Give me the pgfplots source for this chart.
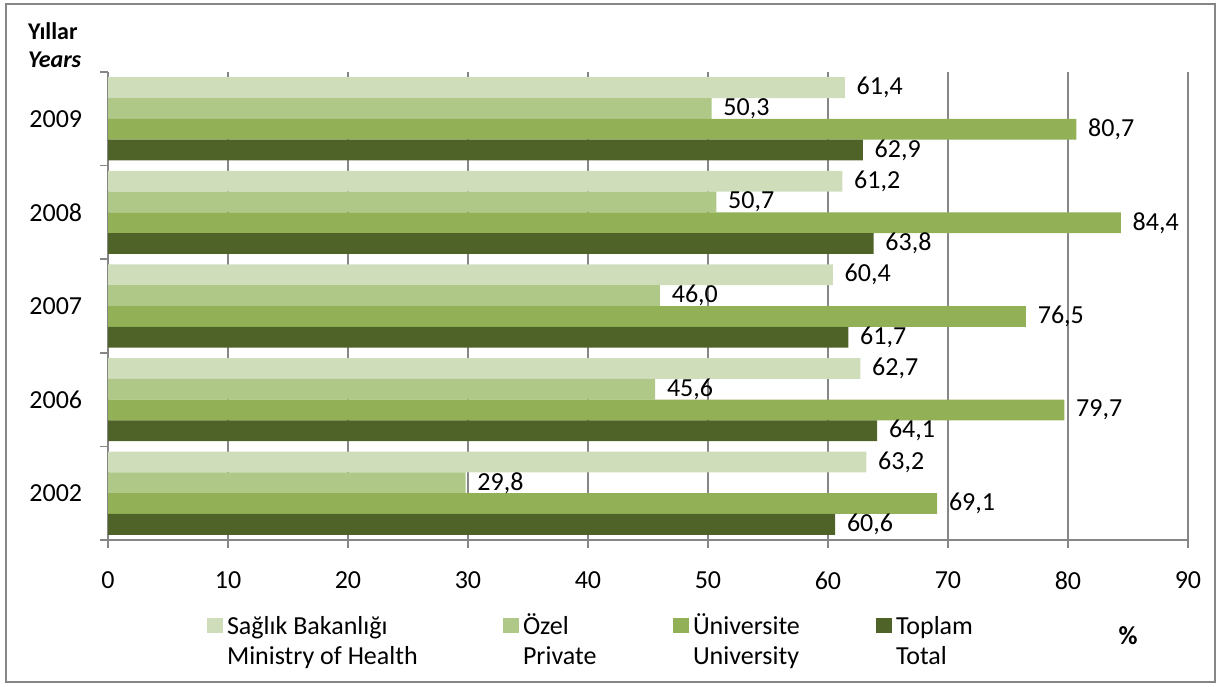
\documentclass[border=0pt]{standalone}
\usepackage{pgfplots}
\pgfplotsset{compat=1.18}
\usepackage{fontspec}
\setmainfont{Carlito}
\definecolor{cMin}{RGB}{208,221,187}
\definecolor{cPri}{RGB}{175,199,135}
\definecolor{cUni}{RGB}{146,176,86}
\definecolor{cTot}{RGB}{79,98,40}
\definecolor{gridgray}{RGB}{134,134,134}
\begin{document}
\fontsize{26}{30}\selectfont
\begin{tikzpicture}[x=1pt,y=1pt]
\path[use as bounding box] (0,0) rectangle (1218,686);
\draw[gridgray, line width=2pt] (6,4) rectangle (1215,682);
\node[anchor=west, inner sep=0pt, font=\fontsize{24}{28}\selectfont\bfseries] at (28,655) {Yıllar};
\node[anchor=west, inner sep=0pt, font=\fontsize{24}{28}\selectfont\bfseries\itshape] at (28,626) {Years};
\node[inner sep=0pt, font=\bfseries] at (1128,50) {\%};
\begin{axis}[
  at={(108pt,146pt)}, anchor=south west,
  scale only axis, width=1080pt, height=468pt,
  xbar, bar width=0.222,
  xmin=0, xmax=90, ymin=-0.5, ymax=4.5,
  xtick={0,10,...,90},
  ytick={0,1,2,3,4},
  yticklabels={2002,2006,2007,2008,2009},
  minor ytick={-0.5,0.5,...,4.5},
  axis x line*=bottom, axis y line*=left,
  axis line style={gridgray, line width=1.5pt},
  xmajorgrids, major grid style={gridgray, line width=1.5pt},
  tick align=outside,
  major tick length=8pt, minor tick length=8pt,
  major x tick style={gridgray, line width=1.5pt},
  major y tick style={draw=none},
  minor y tick style={gridgray, line width=1.5pt},
  /pgf/number format/assume math mode=true,
  tick label style={font=\fontsize{26}{30}\selectfont},
  x tick label style={yshift=-15pt},
  y tick label style={xshift=-9pt},
  nodes near coords={\pgfmathprintnumber[fixed, fixed zerofill, precision=1, use comma]{\pgfplotspointmeta}},
  nodes near coords style={anchor=west, xshift=3pt, font=\fontsize{26}{30}\selectfont, text=black},
  legend columns=4,
  legend style={draw=none, fill=none, inner sep=0pt, outer sep=0pt,
    at={(0.0917,-0.156)}, anchor=north west,
    font=\fontsize{26}{30}\selectfont,
    cells={anchor=base west},
    nodes={inner sep=0pt},
    /tikz/every odd column/.append style={column sep=4.5pt},
    /tikz/every even column/.append style={column sep=0pt}},
  legend image code/.code={\fill[#1] (0pt,1pt) rectangle (15.5pt,16pt);},
]
\addplot[fill=cMin, draw=none, bar shift=0.333] coordinates {(63.2,0) (62.7,1) (60.4,2) (61.2,3) (61.4,4)};
\addlegendentry{\begin{tabular}[t]{@{}l@{}}\makebox[276pt][l]{Sağlık Bakanlığı}\\Ministry of Health\end{tabular}}
\addplot[fill=cPri, draw=none, bar shift=0.111] coordinates {(29.8,0) (45.6,1) (46.0,2) (50.7,3) (50.3,4)};
\addlegendentry{\begin{tabular}[t]{@{}l@{}}\makebox[150pt][l]{Özel}\\Private\end{tabular}}
\addplot[fill=cUni, draw=none, bar shift=-0.111] coordinates {(69.1,0) (79.7,1) (76.5,2) (84.4,3) (80.7,4)};
\addlegendentry{\begin{tabular}[t]{@{}l@{}}\makebox[183pt][l]{Üniversite}\\University\end{tabular}}
\addplot[fill=cTot, draw=none, bar shift=-0.333] coordinates {(60.6,0) (64.1,1) (61.7,2) (63.8,3) (62.9,4)};
\addlegendentry{\begin{tabular}[t]{@{}l@{}}Toplam\\Total\end{tabular}}
\end{axis}
\end{tikzpicture}
\end{document}
